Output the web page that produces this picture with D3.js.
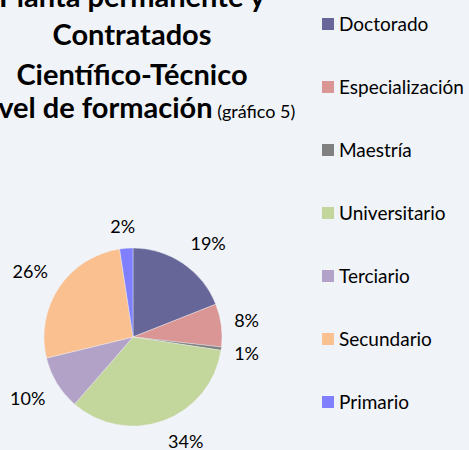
<!DOCTYPE html>
<html>
<head>
<meta charset="utf-8">
<script src="https://cdnjs.cloudflare.com/ajax/libs/d3/7.8.5/d3.min.js"></script>
<style>
  html, body { margin: 0; padding: 0; background: #F0F3F8; }
  svg { display: block; font-family: Lato, "Open Sans", sans-serif; }
</style>
</head>
<body>
<div id="chart"></div>
<script>
var categories = ['Doctorado', 'Especialización', 'Maestría', 'Universitario', 'Terciario', 'Secundario', 'Primario']
var values = [19.0, 7.8, 0.6, 34.0, 9.8, 26.4, 2.4]
var colors = ['#666699', '#D99694', '#808080', '#C3D69B', '#B3A2C7', '#FAC090', '#8080FF']
var titleLines = ['Planta permanente y', 'Contratados', 'Científico-Técnico', 'Nivel de formación']
var titleNote = '(gráfico 5)'

var width = 469
var height = 450
var cx = 133, cy = 337, radius = 89

var svg = d3.select('#chart')
  .append('svg')
  .attr('width', width)
  .attr('height', height)

svg.append('rect')
  .attr('width', width)
  .attr('height', height)
  .attr('fill', '#F0F3F8')

// titulo
var titleY = [7, 45, 85, 118]
var title = svg.append('g').attr('class', 'title')
titleLines.forEach(function (line, i) {
  var t = title.append('text')
    .attr('x', 132)
    .attr('y', titleY[i])
    .attr('text-anchor', 'middle')
    .attr('font-size', 29)
    .attr('font-weight', 'bold')
    .attr('fill', '#000')
  t.append('tspan').text(line)
  if (i === titleLines.length - 1) {
    t.append('tspan')
      .attr('font-size', 18)
      .attr('font-weight', 'normal')
      .text(' ' + titleNote)
  }
})

// torta
var data = categories.map(function (c, i) {
  return { name: c, value: values[i], color: colors[i] }
})

var pie = d3.pie()
  .sort(null)
  .value(function (d) { return d.value })

var arc = d3.arc()
  .innerRadius(0)
  .outerRadius(radius)

var arcs = pie(data)
var total = d3.sum(values)
var fmt = d3.format('.0%')

var g = svg.append('g')
  .attr('transform', 'translate(' + cx + ',' + cy + ')')

g.selectAll('path')
  .data(arcs)
  .enter()
  .append('path')
  .attr('d', arc)
  .attr('fill', function (d) { return d.data.color })
  .attr('stroke', '#F0F3F8')
  .attr('stroke-width', 0.4)

// etiquetas fuera de la torta (la esquina de la caja toca el borde)
var gap = 14
var boxW = function (s) { return s.length * 11.5 }
var boxH = 16
var push = function (v) { return Math.max(-1, Math.min(1, v * 3)) }
g.selectAll('text.label')
  .data(arcs)
  .enter()
  .append('text')
  .attr('class', 'label')
  .attr('text-anchor', 'middle')
  .attr('font-size', 18)
  .attr('fill', '#000')
  .each(function (d) {
    var a = (d.startAngle + d.endAngle) / 2
    var s = fmt(d.data.value / total)
    var sx = Math.sin(a), sy = -Math.cos(a)
    var x = (radius + gap) * sx + boxW(s) / 2 * push(sx)
    var y = (radius + gap) * sy + boxH / 2 * push(sy)
    d3.select(this)
      .attr('x', x)
      .attr('y', y)
      .attr('dy', '0.35em')
      .text(s)
  })

// leyenda
var legend = svg.append('g')
  .attr('class', 'legend')
  .attr('transform', 'translate(322,0)')

var items = legend.selectAll('g')
  .data(data)
  .enter()
  .append('g')
  .attr('transform', function (d, i) { return 'translate(0,' + (24 + i * 63) + ')' })

items.append('rect')
  .attr('x', 0)
  .attr('y', -6)
  .attr('width', 12)
  .attr('height', 12)
  .attr('fill', function (d) { return d.color })

items.append('text')
  .attr('x', 17)
  .attr('y', 0)
  .attr('dy', '0.35em')
  .attr('font-size', 19)
  .attr('fill', '#000')
  .text(function (d) { return d.name })
</script>
</body>
</html>
